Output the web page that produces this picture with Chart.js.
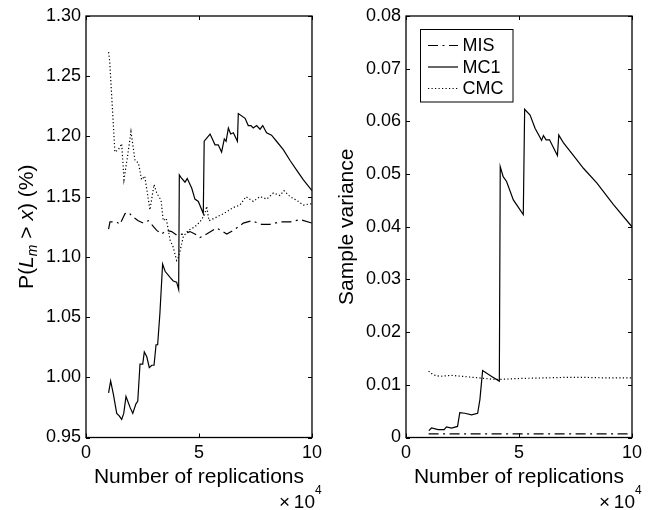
<!DOCTYPE html>
<html>
<head>
<meta charset="utf-8">
<script src="https://cdn.jsdelivr.net/npm/chart.js@4.4.1/dist/chart.umd.min.js"></script>
<style>
  body { margin: 0; background: #fff; }
  canvas { position: absolute; top: 0; }
</style>
</head>
<body>
<canvas id="prob-chart" width="327" height="510" style="left:0"></canvas>
<canvas id="var-chart" width="327" height="510" style="left:327px"></canvas>
<script>
// replications are in units of 10^4
const seriesNames = ['MIS', 'MC1', 'CMC'];

// estimated probability P(Lm > x), in %
const probMisX = [1.0, 1.06, 1.36, 1.5, 1.73, 1.87, 2.09, 2.31, 2.54, 2.76, 3.13, 3.35, 3.57, 3.79, 4.01, 4.31, 4.6, 4.82, 5.04, 5.34, 5.78, 6.23, 6.52, 6.96, 7.33, 7.77, 8.14, 8.58, 9.03, 9.47, 10.0];
const probMisY = [1.123, 1.129, 1.129, 1.127, 1.136, 1.137, 1.133, 1.130, 1.128, 1.130, 1.122, 1.119, 1.122, 1.121, 1.118, 1.119, 1.121, 1.119, 1.116, 1.119, 1.124, 1.119, 1.122, 1.128, 1.130, 1.127, 1.127, 1.129, 1.129, 1.131, 1.128];

const probMc1X = [1.0, 1.09, 1.21, 1.36, 1.47, 1.58, 1.67, 1.77, 1.95, 2.07, 2.21, 2.29, 2.39, 2.51, 2.58, 2.69, 2.80, 2.91, 3.01, 3.10, 3.17, 3.27, 3.39, 3.50, 3.72, 3.86, 4.01, 4.10, 4.13, 4.20, 4.38, 4.48, 4.68, 4.82, 4.97, 5.19, 5.23, 5.49, 5.71, 5.85, 6.0, 6.12, 6.2, 6.3, 6.4, 6.52, 6.70, 6.74, 7.04, 7.18, 7.3, 7.40, 7.55, 7.70, 7.82, 7.99, 8.21, 8.43, 8.73, 9.03, 9.32, 9.62, 10.0];
const probMc1Y = [0.987, 0.997, 0.986, 0.970, 0.968, 0.965, 0.970, 0.984, 0.975, 0.970, 0.978, 0.980, 1.011, 1.011, 1.021, 1.017, 1.008, 1.010, 1.010, 1.027, 1.027, 1.053, 1.094, 1.088, 1.083, 1.080, 1.079, 1.073, 1.168, 1.166, 1.162, 1.165, 1.157, 1.148, 1.146, 1.136, 1.196, 1.202, 1.193, 1.193, 1.187, 1.198, 1.196, 1.207, 1.202, 1.203, 1.196, 1.219, 1.215, 1.209, 1.209, 1.207, 1.209, 1.206, 1.209, 1.203, 1.201, 1.196, 1.189, 1.180, 1.172, 1.164, 1.155];

const probCmcX = [1.0, 1.05, 1.28, 1.43, 1.58, 1.68, 1.85, 1.99, 2.17, 2.32, 2.46, 2.6, 2.83, 3.01, 3.13, 3.32, 3.42, 3.55, 3.72, 3.86, 4.01, 4.1, 4.31, 4.53, 4.82, 5.04, 5.25, 5.34, 5.44, 5.78, 6.1, 6.52, 6.81, 7.08, 7.40, 7.70, 8.0, 8.29, 8.58, 8.76, 9.03, 9.32, 9.62, 9.91, 10.0];
const probCmcY = [1.270, 1.262, 1.187, 1.189, 1.194, 1.164, 1.185, 1.204, 1.180, 1.178, 1.164, 1.167, 1.139, 1.160, 1.153, 1.147, 1.130, 1.132, 1.114, 1.108, 1.097, 1.100, 1.117, 1.122, 1.125, 1.129, 1.135, 1.142, 1.130, 1.133, 1.136, 1.141, 1.143, 1.150, 1.146, 1.150, 1.148, 1.153, 1.151, 1.155, 1.150, 1.147, 1.143, 1.144, 1.144];

// sample variance
const varMisX = [1.0, 2.0, 3.0, 4.0, 5.0, 6.0, 7.0, 8.0, 9.0, 10.0];
const varMisY = [0.0007, 0.0007, 0.0007, 0.0007, 0.0007, 0.0007, 0.0007, 0.0007, 0.0007, 0.0007];

const varMc1X = [1.01, 1.13, 1.42, 1.69, 1.79, 2.01, 2.28, 2.38, 2.60, 2.90, 3.17, 3.27, 3.39, 3.79, 4.13, 4.17, 4.30, 4.45, 4.75, 5.19, 5.25, 5.49, 5.71, 6.0, 6.08, 6.20, 6.35, 6.70, 6.76, 6.97, 7.56, 7.85, 8.45, 9.18, 10.0];
const varMc1Y = [0.0013, 0.0018, 0.0015, 0.0015, 0.0020, 0.0018, 0.0021, 0.0047, 0.0046, 0.0043, 0.0046, 0.0072, 0.0127, 0.0116, 0.0107, 0.0514, 0.0495, 0.0486, 0.0451, 0.0423, 0.0623, 0.0612, 0.0587, 0.0564, 0.0573, 0.0565, 0.0565, 0.0535, 0.0574, 0.0559, 0.0527, 0.0511, 0.0483, 0.0442, 0.0400];

const varCmcX = [1.0, 1.2, 1.5, 2.0, 2.5, 3.0, 4.0, 5.0, 6.0, 7.0, 8.0, 9.0, 10.0];
const varCmcY = [0.0126, 0.0119, 0.0116, 0.0118, 0.0116, 0.0114, 0.0110, 0.0112, 0.0113, 0.0114, 0.0114, 0.0113, 0.0113];

const xTicks = [0, 5, 10];
const dashes = [[10, 4.5, 2, 4.5], [], [1.2, 2.3]];

const FONT = '"Liberation Sans", Arial, Helvetica, sans-serif';

function toPoints(xs, ys) {
    return xs.map((x, i) => ({x: x, y: ys[i]}));
}

function makeDatasets(pairs) {
    return pairs.map((p, i) => ({
        label: seriesNames[i],
        data: toPoints(p[0], p[1]),
        borderColor: '#000',
        borderWidth: 1.2,
        borderDash: dashes[i],
        pointRadius: 0,
        tension: 0,
        fill: false
    }));
}

// box frame, inward ticks, axis titles and the legend box
const framePlugin = {
    id: 'frame',
    afterDatasetsDraw(chart, args, opts) {
        const ctx = chart.ctx;
        const a = chart.chartArea;
        const xs = chart.scales.x, ys = chart.scales.y;
        ctx.save();
        ctx.strokeStyle = '#000';
        ctx.lineWidth = 1;
        ctx.beginPath();
        xs.ticks.forEach(t => {
            const px = Math.round(xs.getPixelForValue(t.value)) + 0.5;
            ctx.moveTo(px, a.bottom); ctx.lineTo(px, a.bottom - 4);
            ctx.moveTo(px, a.top); ctx.lineTo(px, a.top + 4);
        });
        ys.ticks.forEach(t => {
            const py = Math.round(ys.getPixelForValue(t.value)) + 0.5;
            ctx.moveTo(a.left, py); ctx.lineTo(a.left + 4, py);
            ctx.moveTo(a.right, py); ctx.lineTo(a.right - 4, py);
        });
        ctx.stroke();
        ctx.lineWidth = 1.3;
        ctx.strokeRect(a.left, a.top, a.right - a.left, a.bottom - a.top);

        ctx.fillStyle = '#000';
        // x title and exponent
        ctx.font = '21px ' + FONT;
        ctx.textAlign = 'center';
        ctx.textBaseline = 'alphabetic';
        ctx.fillText('Number of replications', (a.left + a.right) / 2, 483);
        ctx.font = '19px ' + FONT;
        ctx.textAlign = 'right';
        ctx.fillText('\u00d7\u200910', a.right + 3, 508);
        ctx.font = '12px ' + FONT;
        ctx.textAlign = 'left';
        ctx.fillText('4', a.right + 3, 494);

        // rotated y title, made of plain/italic/subscript pieces
        const parts = opts.yTitle;
        const fontOf = p => (p.italic ? 'italic ' : '') + (p.sub ? '14px ' : '21px ') + FONT;
        let total = 0;
        parts.forEach(p => { ctx.font = fontOf(p); total += ctx.measureText(p.text).width; });
        ctx.translate(opts.yTitleX, (a.top + a.bottom) / 2);
        ctx.rotate(-Math.PI / 2);
        let cx = -total / 2;
        parts.forEach(p => {
            ctx.font = fontOf(p);
            ctx.fillText(p.text, cx, p.sub ? 4 : 0);
            cx += ctx.measureText(p.text).width;
        });
        ctx.setTransform(1, 0, 0, 1, 0, 0);

        if (opts.legend) {
            const bx = a.left + 14.5, by = a.top + 13.5, bw = 92.5, bh = 72.5;
            ctx.fillStyle = '#fff';
            ctx.fillRect(bx, by, bw, bh);
            ctx.lineWidth = 1;
            ctx.strokeRect(bx, by, bw, bh);
            ctx.font = '18px ' + FONT;
            ctx.textBaseline = 'middle';
            ctx.textAlign = 'left';
            chart.data.datasets.forEach((ds, i) => {
                const ry = by + 16 + i * 21.5;
                ctx.setLineDash(ds.borderDash);
                ctx.lineWidth = 1.2;
                ctx.beginPath();
                ctx.moveTo(bx + 7.5, ry);
                ctx.lineTo(bx + 37.5, ry);
                ctx.stroke();
                ctx.setLineDash([]);
                ctx.fillStyle = '#000';
                ctx.fillText(ds.label, bx + 42, ry + 1);
            });
        }
        ctx.restore();
    }
};

function makeChart(id, datasets, yMin, yMax, yStep, yLabel, areaLeft, padRight, frameOpts) {
    return new Chart(document.getElementById(id), {
        type: 'line',
        data: {datasets: datasets},
        plugins: [framePlugin],
        options: {
            responsive: false,
            animation: false,
            layout: {padding: {left: 0, right: padRight, top: 16, bottom: 0}},
            plugins: {legend: {display: false}, tooltip: {enabled: false}, frame: frameOpts},
            scales: {
                x: {
                    type: 'linear', min: 0, max: 10,
                    afterBuildTicks: s => { s.ticks = xTicks.map(v => ({value: v})); },
                    grid: {display: false, drawTicks: false},
                    border: {display: false},
                    ticks: {padding: 5, color: '#000', font: {family: FONT, size: 18}, callback: v => String(v)},
                    afterFit: s => { s.height = 72.5; }
                },
                y: {
                    min: yMin, max: yMax,
                    grid: {display: false, drawTicks: false},
                    border: {display: false},
                    ticks: {stepSize: yStep, padding: 5, color: '#000', font: {family: FONT, size: 18}, callback: yLabel},
                    afterFit: s => { s.width = areaLeft; }
                }
            }
        }
    });
}

makeChart('prob-chart',
    makeDatasets([[probMisX, probMisY], [probMc1X, probMc1Y], [probCmcX, probCmcY]]),
    0.95, 1.30, 0.05, v => v.toFixed(2), 86, 15,
    {
        yTitleX: 33,
        yTitle: [
            {text: 'P('}, {text: 'L', italic: true}, {text: 'm', italic: true, sub: true},
            {text: ' > '}, {text: 'x', italic: true}, {text: ') (%)'}
        ]
    });

makeChart('var-chart',
    makeDatasets([[varMisX, varMisY], [varMc1X, varMc1Y], [varCmcX, varCmcY]]),
    0, 0.08, 0.01, v => (v === 0 ? '0' : v.toFixed(2)), 79, 22,
    {yTitleX: 26, yTitle: [{text: 'Sample variance'}], legend: true});
</script>
</body>
</html>
